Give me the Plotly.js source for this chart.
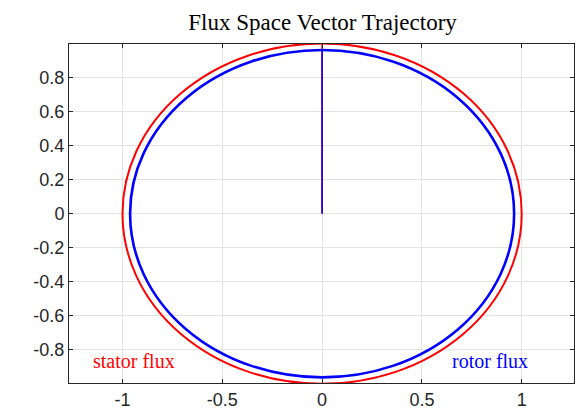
<!DOCTYPE html>
<html>
<head>
<meta charset="utf-8">
<script src="https://cdn.plot.ly/plotly-3.0.1.min.js"></script>
<style>html,body{margin:0;padding:0;background:#fff;}#chart{width:576px;height:414px;}</style>
</head>
<body>
<div id="chart"></div>
<script>
// Flux magnitudes
const fluxNames = ['stator flux', 'rotor flux'];
const fluxRadius = [1.0, 0.962];
const fluxColors = ['#ff0000', '#0000ff'];
const circleWidths = [2, 2.6];
// Initial radial jump of each flux vector (origin -> start of circle)
const radialX = [[0, 0], [0, 0]];
const radialY = [[0, 1.0], [0, 0.962]];
// Label positions (data units)
const labelX = [-0.94, 0.84];
const labelY = [-0.865, -0.865];
// Tick labels
const xTickVals = [-1, -0.5, 0, 0.5, 1];
const xTickText = ['-1', '-0.5', '0', '0.5', '1'];
const yTickVals = [-0.8, -0.6, -0.4, -0.2, 0, 0.2, 0.4, 0.6, 0.8];
const yTickText = ['-0.8', '-0.6', '-0.4', '-0.2', '0', '0.2', '0.4', '0.6', '0.8'];

const traces = fluxNames.map((n, i) => ({
  type: 'scatter', mode: 'lines', name: n,
  x: radialX[i], y: radialY[i],
  line: {color: fluxColors[i], width: 1.5},
  hoverinfo: 'skip', showlegend: false
}));

const shapes = fluxNames.map((n, i) => ({
  type: 'circle', xref: 'x', yref: 'y', layer: 'above',
  x0: -fluxRadius[i], x1: fluxRadius[i], y0: -fluxRadius[i], y1: fluxRadius[i],
  line: {color: fluxColors[i], width: circleWidths[i]}, fillcolor: 'rgba(0,0,0,0)'
}));

const annotations = fluxNames.map((n, i) => ({
  x: labelX[i], y: labelY[i], xref: 'x', yref: 'y', text: n, showarrow: false,
  font: {family: 'Liberation Serif, Times New Roman, serif', size: 20, color: fluxColors[i]}
}));

const axisCommon = {
  showgrid: true, gridcolor: '#e3e3e3', gridwidth: 1,
  zeroline: false, showline: true, linecolor: '#262626', linewidth: 1,
  mirror: 'ticks', ticks: 'inside', ticklen: 4, tickcolor: '#262626',
  tickfont: {family: 'Liberation Sans, Arial, sans-serif', size: 18, color: '#262626'}
};

const layout = {
  width: 576, height: 414,
  margin: {l: 69, r: 2, t: 44, b: 31},
  paper_bgcolor: '#fff', plot_bgcolor: '#fff',
  title: {text: 'Flux Space Vector Trajectory', x: 0.56, xanchor: 'center', y: 0.947, yanchor: 'middle',
          font: {family: 'Liberation Serif, Times New Roman, serif', size: 23, color: '#000'}},
  xaxis: Object.assign({}, axisCommon, {range: [-1.268, 1.262], tickvals: xTickVals, ticktext: xTickText}),
  yaxis: Object.assign({}, axisCommon, {range: [-0.995, 0.997], tickvals: yTickVals, ticktext: yTickText}),
  shapes: shapes,
  annotations: annotations,
  showlegend: false
};

Plotly.newPlot('chart', traces, layout, {displayModeBar: false, staticPlot: true});
</script>
</body>
</html>
